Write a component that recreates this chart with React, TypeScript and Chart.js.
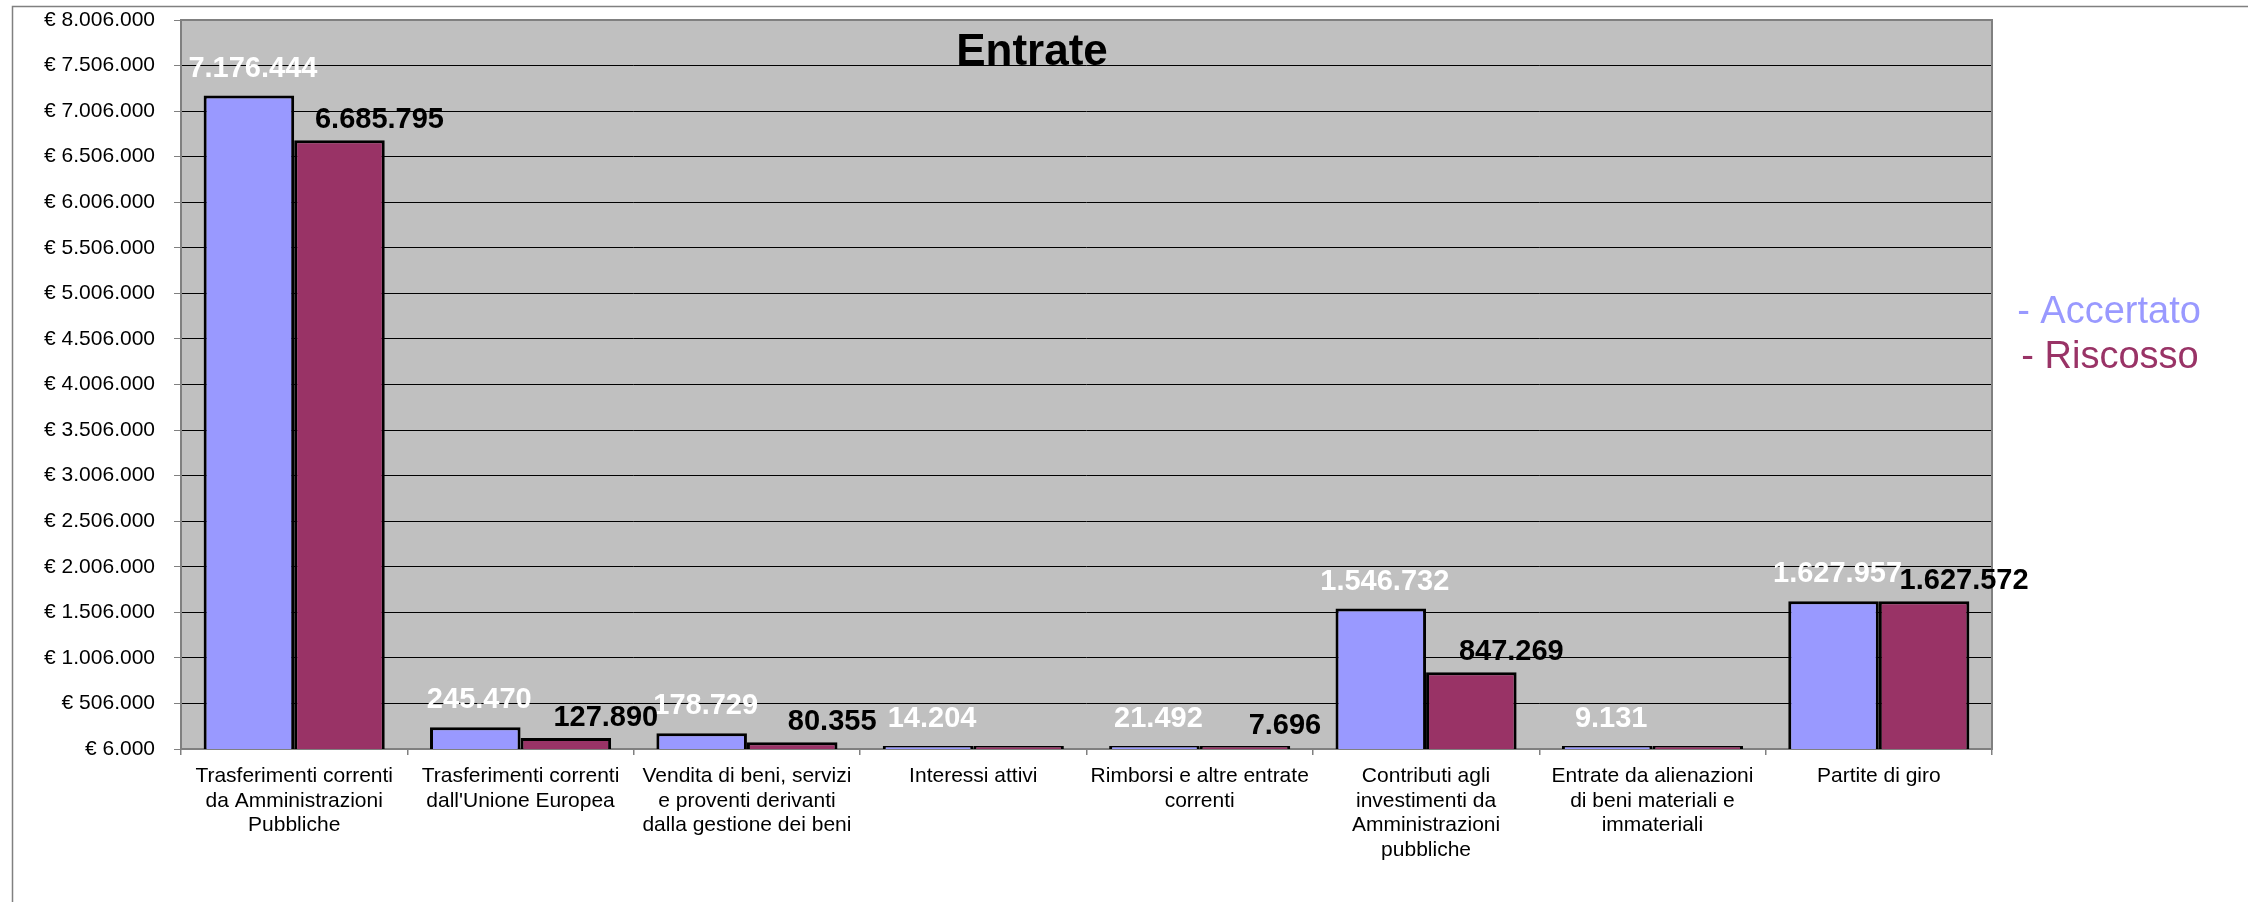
import React, { useEffect, useRef } from "react";
import { Chart, registerables } from "chart.js";

Chart.register(...registerables);

const TITLE = "Entrate";
const CATEGORIES: (string | string[])[] = [
  ["Trasferimenti correnti", "da Amministrazioni", "Pubbliche"],
  ["Trasferimenti correnti", "dall'Unione Europea"],
  ["Vendita di beni, servizi", "e proventi derivanti", "dalla gestione dei beni"],
  "Interessi attivi",
  ["Rimborsi e altre entrate", "correnti"],
  ["Contributi agli", "investimenti da", "Amministrazioni", "pubbliche"],
  ["Entrate da alienazioni", "di beni materiali e", "immateriali"],
  "Partite di giro",
];
const SERIES_NAMES = ["Accertato", "Riscosso"];
const ACCERTATO = [7176444, 245470, 178729, 14204, 21492, 1546732, 9131, 1627957];
const RISCOSSO = [6685795, 127890, 80355, 0, 7696, 847269, 0, 1627572];
const Y_TICKS = [
  6000, 506000, 1006000, 1506000, 2006000, 2506000, 3006000, 3506000, 4006000,
  4506000, 5006000, 5506000, 6006000, 6506000, 7006000, 7506000, 8006000,
];

const FONT = "'Liberation Sans', Arial, Helvetica, sans-serif";
const BLUE = "#9999FF";
const RED = "#993366";
const Y_MIN = Y_TICKS[0];
const Y_MAX = Y_TICKS[Y_TICKS.length - 1];

const fmt = (v: number) =>
  Math.round(v)
    .toString()
    .replace(/\B(?=(\d{3})+(?!\d))/g, ".");

const decor = {
  id: "decor",
  beforeDraw(chart: any) {
    const { ctx, chartArea: a } = chart;
    ctx.save();
    ctx.fillStyle = "#ffffff";
    ctx.fillRect(0, 0, chart.width, chart.height);
    ctx.strokeStyle = "#808080";
    ctx.lineWidth = 1.5;
    ctx.beginPath();
    ctx.moveTo(12.5, chart.height);
    ctx.lineTo(12.5, 6.5);
    ctx.lineTo(chart.width, 6.5);
    ctx.stroke();
    ctx.fillStyle = "#C0C0C0";
    ctx.fillRect(a.left, a.top, a.right - a.left, a.bottom - a.top);
    ctx.restore();
  },
  beforeDatasetsDraw(chart: any) {
    const { ctx, chartArea: a } = chart;
    ctx.save();
    ctx.strokeStyle = "#808080";
    ctx.lineWidth = 2;
    ctx.strokeRect(a.left, a.top, a.right - a.left, a.bottom - a.top);
    ctx.restore();
  },
  afterDatasetsDraw(chart: any) {
    const { ctx, chartArea: a } = chart;
    ctx.save();
    ctx.textAlign = "center";
    ctx.textBaseline = "middle";
    ctx.font = `bold 29px ${FONT}`;
    chart.data.datasets.forEach((ds: any, di: number) => {
      const meta = chart.getDatasetMeta(di);
      meta.data.forEach((bar: any, i: number) => {
        const v = ds.data[i];
        if (v == null || v < Y_MIN) return;
        if (di === 0) {
          ctx.fillStyle = "#ffffff";
          ctx.fillText(fmt(v), bar.x + 4, bar.y - 27);
        } else {
          ctx.fillStyle = "#000000";
          ctx.fillText(fmt(v), bar.x + 40, bar.y - 20);
        }
      });
    });
    // title
    ctx.fillStyle = "#000000";
    ctx.font = `bold 44px ${FONT}`;
    ctx.textBaseline = "alphabetic";
    ctx.fillText(TITLE, 1032, 65);
    // legend
    ctx.font = `38px ${FONT}`;
    ctx.textBaseline = "middle";
    ctx.fillStyle = BLUE;
    ctx.fillText("- " + SERIES_NAMES[0], a.right + 117, 313);
    ctx.fillStyle = RED;
    ctx.fillText("- " + SERIES_NAMES[1], a.right + 118, 358);
    ctx.restore();
  },
};

export default function App() {
  const ref = useRef<HTMLCanvasElement | null>(null);
  useEffect(() => {
    if (!ref.current) return;
    const chart = new Chart(ref.current, {
      type: "bar",
      data: {
        labels: CATEGORIES,
        datasets: [
          {
            label: SERIES_NAMES[0],
            data: ACCERTATO,
            backgroundColor: BLUE,
            borderColor: "#000000",
            borderWidth: 3,
            minBarLength: 3,
            categoryPercentage: 0.8,
            barPercentage: 1.0,
          },
          {
            label: SERIES_NAMES[1],
            data: RISCOSSO,
            backgroundColor: RED,
            borderColor: "#000000",
            borderWidth: 3,
            minBarLength: 3,
            categoryPercentage: 0.8,
            barPercentage: 1.0,
          },
        ],
      },
      options: {
        animation: false,
        responsive: true,
        maintainAspectRatio: false,
        layout: { padding: { left: 0, right: 256, top: 20, bottom: 0 } },
        plugins: {
          legend: { display: false },
          title: { display: false },
          tooltip: { enabled: false },
        },
        scales: {
          x: {
            offset: true,
            grid: {
              offset: true,
              drawOnChartArea: false,
              tickLength: 6,
              tickColor: "#808080",
              lineWidth: 1.5,
            },
            border: { display: false },
            ticks: {
              color: "#000000",
              padding: 9,
              maxRotation: 0,
              autoSkip: false,
              font: { family: FONT, size: 21, lineHeight: 1.17 },
            },
            afterFit: (s: any) => {
              s.height = 153;
              s.paddingLeft = 0;
              s.paddingRight = 0;
            },
          },
          y: {
            min: Y_MIN,
            max: Y_MAX,
            afterBuildTicks: (s: any) => {
              s.ticks = Y_TICKS.map((v) => ({ value: v }));
            },
            grid: {
              color: (c: any) =>
                c.tick && (c.tick.value === Y_MIN || c.tick.value === Y_MAX) ? "#808080" : "#000000",
              tickColor: "#808080",
              tickLength: 7,
              lineWidth: 1,
            },
            border: { display: false },
            ticks: {
              color: "#000000",
              padding: 19,
              font: { family: FONT, size: 21 },
              callback: (v: any) => "€ " + fmt(Number(v)),
            },
            afterFit: (s: any) => {
              s.width = 181;
              s.paddingTop = 0;
              s.paddingBottom = 0;
            },
          },
        },
      },
      plugins: [decor],
    });
    return () => chart.destroy();
  }, []);
  return (
    <div style={{ position: "fixed", left: 0, top: 0, width: 2248, height: 902 }}>
      <canvas ref={ref} />
    </div>
  );
}
